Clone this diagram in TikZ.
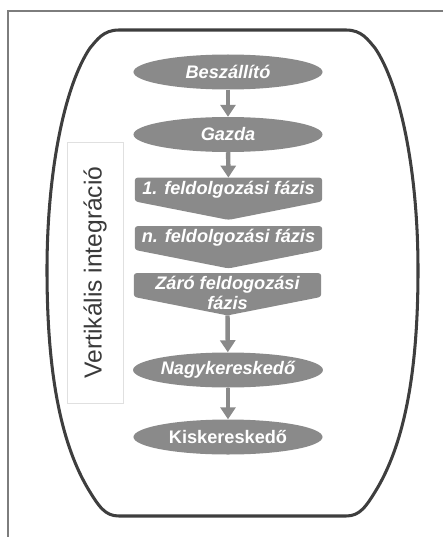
\documentclass[tikz,border=0pt]{standalone}
\usepackage{fontspec}
\setmainfont{Liberation Sans}
\usetikzlibrary{shapes.geometric,arrows.meta,backgrounds,calc}

\definecolor{shapegray}{RGB}{138,138,138}
\definecolor{linegray}{RGB}{62,62,62}
\definecolor{framegray}{RGB}{125,125,125}
\definecolor{labelgray}{RGB}{58,58,58}

\tikzset{
  actor/.style={ellipse, fill=shapegray, minimum width=5.67cm, minimum height=1.05cm,
    inner sep=0pt, text=white, font=\fontsize{15.5}{18}\selectfont\bfseries\itshape},
  stagebox/.style={rectangle, minimum width=5.61cm, minimum height=0.70cm, inner sep=0pt,
    text=white, font=\fontsize{15.5}{18}\selectfont\bfseries\itshape},
  stagetext/.style={inner sep=0pt, align=center, text=white,
    font=\fontsize{15.5}{17.5}\selectfont\bfseries\itshape},
  chevron/.style={fill=shapegray, rounded corners=2.5pt},
  flow/.style={draw=shapegray, line width=3.8pt, -{Triangle[width=0.45cm,length=0.36cm]}}
}

\begin{document}
\begin{tikzpicture}[x=0.03cm, y=-0.03cm]
    \useasboundingbox (0,0) rectangle (443,537);

    % Frame
    \draw[framegray, line width=1pt] (443,11) -- (8,11) -- (8,537);

    % Barrel
    \draw[linegray, line width=2.6pt]
      (346,30) .. controls (362,30) and (368,40) .. (375,48)
      .. controls (400,85) and (418,170) .. (418,270)
      .. controls (418,370) and (405,440) .. (378,487)
      .. controls (366,507) and (360,516) .. (346,516)
      -- (119,516)
      .. controls (105,516) and (99,507) .. (87,487)
      .. controls (60,440) and (47,370) .. (47,270)
      .. controls (47,170) and (65,85) .. (90,48)
      .. controls (97,40) and (103,30) .. (119,30) -- cycle;

    % Side label
    \node[draw=black!12, line width=0.6pt, minimum width=1.68cm, minimum height=7.83cm,
      inner sep=0pt] (sidebox) at (95,272.5) {};
    \node[rotate=90, text=labelgray, font=\fontsize{21}{24}\selectfont] (sidelabel)
      at (sidebox.center) {Vertikális integráció};

    % Nodes
    \node[actor] (beszallito) at (228,72) {Beszállító};
    \node[actor] (gazda) at (228,134.5) {Gazda};
    \node[stagebox] (fazis1) at (228.5,189.5) {1. feldolgozási fázis};
    \node[stagebox] (fazisn) at (228.5,238) {n. feldolgozási fázis};
    \node[stagebox] (zaro) at (227.5,285) {};
    \node[stagetext] (zarotext) at (227.5,293) {Záró feldogozási\\fázis};
    \node[actor] (nagyker) at (228,370) {Nagykereskedő};
    \node[actor, font=\fontsize{15.5}{18}\selectfont\bfseries] (kisker) at (228,437) {Kiskereskedő};
    \coordinate (zaropoint) at ($(zaro.south)+(0,18.5)$);

    % Chevrons
    \begin{scope}[on background layer]
      \foreach \s in {fazis1, fazisn, zaro}
        \fill[chevron] (\s.north west) -- (\s.north east) -- (\s.south east)
          -- ($(\s.south)+(0,18.5)$) -- (\s.south west) -- cycle;
    \end{scope}

    % Connection
    \draw[flow] (beszallito) -- (gazda);
    \draw[flow] (gazda) -- (fazis1);
    \draw[flow] (zaropoint) -- (nagyker);
    \draw[flow] (nagyker) -- (kisker);
\end{tikzpicture}
\end{document}
